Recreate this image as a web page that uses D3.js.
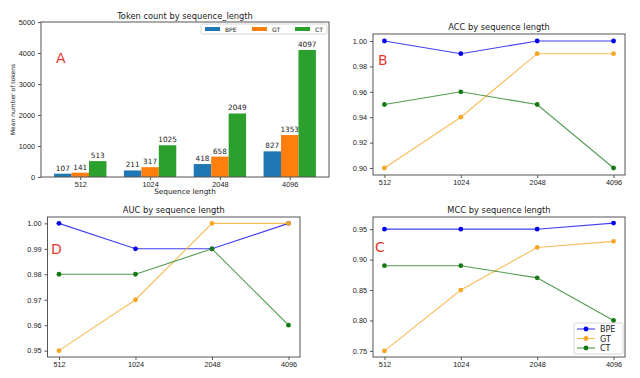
<!DOCTYPE html>
<html><head><meta charset="utf-8">
<script src="https://cdn.jsdelivr.net/npm/d3@7"></script>
<style>
html,body{margin:0;padding:0;background:#fff;}
svg{display:block;font-family:"DejaVu Sans",sans-serif;}
</style></head>
<body><svg id="c" width="640" height="378"></svg>
<script>
const lengths = ["512", "1024", "2048", "4096"];
const methods = ["BPE", "GT", "CT"];
const tokenBPE = [107, 211, 418, 827];
const tokenGT = [141, 317, 658, 1353];
const tokenCT = [513, 1025, 2049, 4097];
const accBPE = [1.00, 0.99, 1.00, 1.00];
const accGT = [0.90, 0.94, 0.99, 0.99];
const accCT = [0.95, 0.96, 0.95, 0.90];
const aucBPE = [1.00, 0.99, 0.99, 1.00];
const aucGT = [0.95, 0.97, 1.00, 1.00];
const aucCT = [0.98, 0.98, 0.99, 0.96];
const mccBPE = [0.95, 0.95, 0.95, 0.96];
const mccGT = [0.75, 0.85, 0.92, 0.93];
const mccCT = [0.89, 0.89, 0.87, 0.80];
const tokenTicks = [0, 1000, 2000, 3000, 4000, 5000];
const accTicks = [0.90, 0.92, 0.94, 0.96, 0.98, 1.00];
const aucTicks = [0.95, 0.96, 0.97, 0.98, 0.99, 1.00];
const mccTicks = [0.75, 0.80, 0.85, 0.90, 0.95];

const barColors = ["#1f77b4", "#ff7f0e", "#2ca02c"];
const lineColors = ["#0000ee", "#f5a623", "#157a15"];
const svg = d3.select("#c");
const FRAME = "#555";
const TXT = "#1a1a1a";
const TICKFS = "7.3px";

function frame(g, L, R, T, B) {
  g.append("rect").attr("x", L).attr("y", T).attr("width", R - L).attr("height", B - T)
    .attr("fill", "none").attr("stroke", FRAME).attr("stroke-width", 1);
}
function styleAxis(a) {
  a.select(".domain").remove();
  a.selectAll(".tick line").attr("stroke", FRAME);
  a.selectAll(".tick text").attr("fill", TXT).attr("font-size", TICKFS);
}

// ---------- Panel A: bar chart ----------
(function () {
  const L = 41, R = 329, T = 22, B = 177;
  const g = svg.append("g");
  const xi = d3.scaleLinear().domain([-0.5625, 3.5625]).range([L, R]);
  const y = d3.scaleLinear().domain([0, 5000]).range([B, T]);
  const series = [tokenBPE, tokenGT, tokenCT];
  const bw = xi(0.25) - xi(0);
  series.forEach((vals, si) => {
    vals.forEach((v, i) => {
      const cx = xi(i + (si - 1) * 0.25);
      g.append("rect").attr("x", cx - bw / 2).attr("y", y(v)).attr("width", bw)
        .attr("height", y(0) - y(v)).attr("fill", barColors[si]);
      g.append("text").attr("x", cx).attr("y", y(v) - 3).attr("text-anchor", "middle")
        .attr("font-size", TICKFS).attr("fill", TXT).text(v);
    });
  });
  const ya = g.append("g").attr("transform", `translate(${L},0)`)
    .call(d3.axisLeft(y).tickValues(tokenTicks).tickSize(3).tickPadding(3).tickFormat(d3.format("d")));
  styleAxis(ya);
  const xa = g.append("g").attr("transform", `translate(0,${B})`)
    .call(d3.axisBottom(xi).tickValues([0, 1, 2, 3]).tickSize(3).tickPadding(2).tickFormat(i => lengths[i]));
  styleAxis(xa);
  frame(g, L, R, T, B);
  g.append("text").attr("x", (L + R) / 2).attr("y", 19).attr("text-anchor", "middle")
    .attr("font-size", "8.3px").attr("fill", TXT).text("Token count by sequence_length");
  g.append("text").attr("x", (L + R) / 2).attr("y", 194).attr("text-anchor", "middle")
    .attr("font-size", TICKFS).attr("fill", TXT).text("Sequence length");
  g.append("text").attr("transform", `translate(15,${(T + B) / 2}) rotate(-90)`)
    .attr("text-anchor", "middle").attr("font-size", "6px").attr("fill", TXT).text("Mean number of tokens");
  g.append("text").attr("x", 56).attr("y", 63).attr("font-size", "14px").attr("fill", "#e8372c").text("A");
  // legend
  const lg = g.append("g");
  lg.append("rect").attr("x", 201).attr("y", 24).attr("width", 126).attr("height", 10)
    .attr("fill", "#fff").attr("fill-opacity", 0.85).attr("stroke", "#ccc").attr("stroke-width", 0.8).attr("rx", 1.5);
  const lx = [205, 252, 295];
  methods.forEach((m, i) => {
    lg.append("rect").attr("x", lx[i]).attr("y", 27).attr("width", 15).attr("height", 4).attr("fill", barColors[i]);
    lg.append("text").attr("x", lx[i] + 20).attr("y", 31.5).attr("font-size", "6px").attr("fill", TXT).text(m);
  });
})();

// ---------- Line panels ----------
function linePanel(o) {
  const g = svg.append("g");
  const xi = d3.scaleLinear().domain([-0.15, 3.15]).range([o.L, o.R]);
  const y = d3.scaleLinear().domain(o.ylim).range([o.B, o.T]);
  const ya = g.append("g").attr("transform", `translate(${o.L},0)`)
    .call(d3.axisLeft(y).tickValues(o.ticks).tickSize(3).tickPadding(3).tickFormat(d3.format(".2f")));
  styleAxis(ya);
  const xa = g.append("g").attr("transform", `translate(0,${o.B})`)
    .call(d3.axisBottom(xi).tickValues([0, 1, 2, 3]).tickSize(3).tickPadding(2).tickFormat(i => lengths[i]));
  styleAxis(xa);
  const line = d3.line().x((d, i) => xi(i)).y(d => y(d));
  o.series.forEach((vals, si) => {
    g.append("path").datum(vals).attr("d", line).attr("fill", "none")
      .attr("stroke", lineColors[si]).attr("stroke-opacity", 0.75).attr("stroke-width", 1.1);
    g.selectAll(null).data(vals).enter().append("circle")
      .attr("cx", (d, i) => xi(i)).attr("cy", d => y(d)).attr("r", 2.4).attr("fill", lineColors[si]);
  });
  frame(g, o.L, o.R, o.T, o.B);
  g.append("text").attr("x", (o.L + o.R) / 2).attr("y", o.T - 4).attr("text-anchor", "middle")
    .attr("font-size", "8.3px").attr("fill", TXT).text(o.title);
  g.append("text").attr("x", o.lab[0]).attr("y", o.lab[1]).attr("font-size", "14px")
    .attr("fill", "#e8372c").text(o.letter);
  return { g, xi, y };
}

linePanel({ L: 373, R: 625, T: 34, B: 175, ylim: [0.8945, 1.0055], ticks: accTicks,
  series: [accBPE, accGT, accCT], title: "ACC by sequence length", letter: "B", lab: [378, 65] });
linePanel({ L: 47.5, R: 300, T: 217, B: 357, ylim: [0.9475, 1.0025], ticks: aucTicks,
  series: [aucBPE, aucGT, aucCT], title: "AUC by sequence length", letter: "D", lab: [51, 254] });
const pc = linePanel({ L: 373, R: 625, T: 217, B: 357, ylim: [0.74, 0.97], ticks: mccTicks,
  series: [mccBPE, mccGT, mccCT], title: "MCC by sequence length", letter: "C", lab: [375, 252] });

// legend in MCC panel
(function () {
  const g = pc.g;
  g.append("rect").attr("x", 574).attr("y", 323).attr("width", 49).attr("height", 31)
    .attr("fill", "#fff").attr("fill-opacity", 0.85).attr("stroke", "#ccc").attr("stroke-width", 0.8).attr("rx", 1.5);
  methods.forEach((m, i) => {
    const yy = 329 + i * 9.5;
    g.append("line").attr("x1", 577).attr("x2", 595).attr("y1", yy).attr("y2", yy)
      .attr("stroke", lineColors[i]).attr("stroke-opacity", 0.75).attr("stroke-width", 1.1);
    g.append("circle").attr("cx", 586).attr("cy", yy).attr("r", 2.4).attr("fill", lineColors[i]);
    g.append("text").attr("x", 600).attr("y", yy + 3).attr("font-size", "8px").attr("fill", TXT).text(m);
  });
})();
</script></body></html>
